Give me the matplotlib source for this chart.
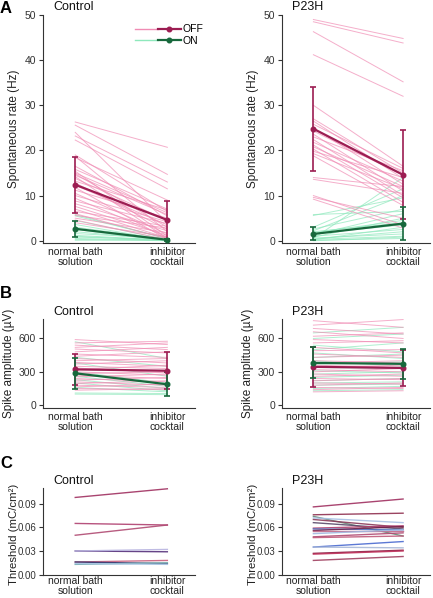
import numpy as np
import matplotlib
matplotlib.use("Agg")
import matplotlib.pyplot as plt
from matplotlib.lines import Line2D
from matplotlib.legend_handler import HandlerTuple

plt.rcParams['font.family'] = ['Liberation Sans', 'DejaVu Sans']

conditions = ["normal bath\nsolution", "inhibitor\ncocktail"]
groups = ["Control", "P23H"]

# --- A: spontaneous rate (Hz), individual cells ---
ctrl_off_nb = [26.3, 25.6, 24.0, 23.2, 22.3, 19.0, 18.7, 18.4, 16.5, 15.8, 15.4, 15.0, 14.8, 14.5, 14.2, 13.8, 13.2,
               12.8, 12.3, 11.8, 11.2, 10.5, 10.0, 9.4, 8.8, 8.2, 7.6, 7.0, 6.5, 6.0, 5.6, 5.0, 4.6, 4.0]
ctrl_off_ic = [20.7, 14.7, 4.0, 13.0, 11.5, 6.5, 2.0, 9.0, 5.5, 7.0, 1.0, 6.2, 3.0, 5.8, 0.5, 4.5, 6.8,
               2.5, 3.5, 0.3, 5.0, 1.5, 4.2, 0.8, 3.8, 2.2, 1.2, 0.6, 3.2, 0.4, 2.8, 1.8, 0.2, 0.9]
ctrl_on_nb = [5.8, 5.5, 4.5, 3.6, 3.0, 2.5, 2.0, 1.6, 1.2, 1.0, 0.8, 0.5, 0.3, 0.1]
ctrl_on_ic = [0.4, 0.6, 0.2, 0.1, 0.3, 0.0, 0.2, 0.5, 0.1, 0.0, 0.3, 0.1, 0.0, 0.2]

p23_off_nb = [49.0, 48.5, 46.3, 41.2, 30.0, 27.0, 26.5, 25.8, 25.0, 24.3, 23.6, 23.0, 22.4, 21.8, 21.2, 20.8,
              20.3, 19.8, 19.3, 18.8, 14.0, 13.6, 10.0, 9.6, 9.2]
p23_off_ic = [44.8, 43.8, 35.2, 32.0, 16.5, 15.0, 13.8, 16.0, 12.5, 14.5, 11.0, 15.5, 10.0, 13.2, 9.5, 12.0,
              8.5, 14.0, 11.5, 7.8, 12.0, 10.5, 3.5, 5.0, 2.8]
p23_on_nb = [5.8, 5.6, 3.0, 2.6, 2.2, 2.0, 1.6, 1.3, 1.0, 0.8, 0.6, 0.4, 0.3, 0.2, 0.1, 0.0, 0.5, 1.8]
p23_on_ic = [6.5, 9.5, 11.5, 7.0, 10.0, 4.0, 3.5, 6.0, 2.5, 5.0, 1.5, 2.0, 1.0, 3.0, 0.5, 0.8, 14.0, 4.5]

# mean and error (low, high) at each condition
rate_off_mean = {"Control": [12.4, 4.6], "P23H": [24.8, 14.6]}
rate_off_lo = {"Control": [6.2, 0.3], "P23H": [15.5, 4.8]}
rate_off_hi = {"Control": [18.6, 8.8], "P23H": [34.0, 24.5]}
rate_on_mean = {"Control": [2.65, 0.2], "P23H": [1.5, 3.8]}
rate_on_lo = {"Control": [0.9, 0.0], "P23H": [0.1, 0.2]}
rate_on_hi = {"Control": [4.4, 0.4], "P23H": [3.1, 7.5]}

# --- B: spike amplitude (uV) ---
ctrl_amp_off_nb = [590, 560, 540, 520, 505, 480, 460, 440, 420, 400, 385, 370, 350, 335, 320, 300, 285, 270,
                   255, 240, 225, 210, 195, 180, 165, 150, 135]
ctrl_amp_off_ic = [545, 575, 500, 560, 470, 520, 430, 480, 380, 420, 350, 400, 330, 290, 360, 270, 300, 240,
                   280, 210, 250, 180, 220, 160, 190, 140, 150]
ctrl_amp_on_nb = [570, 430, 380, 300, 260, 230, 200, 160, 110, 100]
ctrl_amp_on_ic = [420, 350, 260, 200, 170, 150, 130, 120, 105, 95]

p23_amp_off_nb = [760, 720, 690, 660, 620, 590, 560, 520, 490, 460, 430, 400, 380, 360, 340, 320, 300, 280,
                  260, 240, 220, 200, 180, 160, 140, 120]
p23_amp_off_ic = [700, 770, 640, 600, 650, 560, 580, 470, 500, 430, 450, 380, 400, 340, 360, 300, 330, 260,
                  280, 230, 240, 190, 200, 150, 160, 130]
p23_amp_on_nb = [650, 600, 540, 500, 470, 430, 400, 370, 340, 310, 280, 250, 220, 200, 180, 150, 130]
p23_amp_on_ic = [700, 640, 480, 560, 420, 460, 350, 390, 330, 290, 300, 270, 240, 210, 190, 170, 140]

amp_off_mean = {"Control": [322, 310], "P23H": [345, 335]}
amp_off_lo = {"Control": [179, 150], "P23H": [161, 170]}
amp_off_hi = {"Control": [457, 475], "P23H": [525, 500]}
amp_on_mean = {"Control": [287, 188], "P23H": [380, 372]}
amp_on_lo = {"Control": [143, 81], "P23H": [245, 235]}
amp_on_hi = {"Control": [421, 295], "P23H": [520, 505]}

# --- C: threshold (mC/cm2) ---
ctrl_thr_nb = [0.098, 0.065, 0.050, 0.030, 0.030, 0.016, 0.016, 0.013, 0.014]
ctrl_thr_ic = [0.109, 0.063, 0.063, 0.029, 0.032, 0.018, 0.014, 0.015, 0.013]
ctrl_thr_col = ['#a03060', '#b04070', '#b04a72', '#55307a', '#b8b4e0', '#c8607e', '#30306a', '#6aa8a8', '#a8c4e4']

p23_thr_nb = [0.086, 0.076, 0.074, 0.072, 0.070, 0.066, 0.059, 0.058, 0.056, 0.055, 0.052, 0.048, 0.047, 0.035,
              0.035, 0.027, 0.026, 0.018]
p23_thr_ic = [0.096, 0.078, 0.049, 0.066, 0.060, 0.058, 0.062, 0.057, 0.061, 0.055, 0.057, 0.053, 0.049, 0.042,
              0.034, 0.031, 0.030, 0.023]
p23_thr_col = ['#a03060', '#903050', '#6a8a78', '#a8c0e4', '#8a3a5a', '#5a4a6a', '#b04070', '#5070c0', '#702048',
               '#c06888', '#a0b8e0', '#b04a72', '#c05a7a', '#4a6ad0', '#a8b8d8', '#8a1a40', '#c0305a', '#a04060']

OFF_LIGHT = '#f08cb4'
ON_LIGHT = '#8ee8bc'
OFF_DARK = '#9c1d52'
ON_DARK = '#17683c'
AX_COL = '#333333'

x = np.array([0, 1])

fig = plt.figure(figsize=(4.33, 5.98), dpi=100)

W = 433.0
H = 598.0


def make_ax(left, right, top, bottom):
    return fig.add_axes([left / W, 1 - bottom / H, (right - left) / W, (bottom - top) / H])


def style(ax, ylim, yticks, ylabel, title, yfmt=None, labelpad=3, labelsize=8.5):
    for s in ['top', 'right']:
        ax.spines[s].set_visible(False)
    for s in ['left', 'bottom']:
        ax.spines[s].set_color(AX_COL)
        ax.spines[s].set_linewidth(0.8)
    ax.set_xlim(-0.35, 1.3)
    ax.set_ylim(*ylim)
    ax.set_yticks(yticks)
    if yfmt:
        ax.set_yticklabels([yfmt.format(v) for v in yticks])
    ax.set_xticks(x)
    ax.set_xticklabels(conditions, fontsize=7.5, color='#222222', linespacing=1.0)
    ax.tick_params(axis='x', length=0, pad=3)
    ax.tick_params(axis='y', length=3, width=0.8, color=AX_COL, labelsize=7.5, labelcolor='#333333', pad=2)
    ax.set_ylabel(ylabel, fontsize=labelsize, color='#222222', labelpad=labelpad)
    ax.text(0.066, 1.01, title, transform=ax.transAxes, fontsize=9, ha='left', va='bottom', color='#111111')


def pairs(ax, a, b, color, lw=0.7, alpha=0.7):
    for y0, y1 in zip(a, b):
        ax.plot(x, [y0, y1], color=color, lw=lw, alpha=alpha, zorder=1)


def mean_err(ax, m, lo, hi, color):
    m = np.array(m)
    err = np.vstack([m - np.array(lo), np.array(hi) - m])
    ax.errorbar(x, m, yerr=err, color=color, lw=1.6, marker='o', ms=3.3, capsize=2.5, capthick=1.2,
                elinewidth=1.2, zorder=5)


rate_data = {
    "Control": (ctrl_off_nb, ctrl_off_ic, ctrl_on_nb, ctrl_on_ic),
    "P23H": (p23_off_nb, p23_off_ic, p23_on_nb, p23_on_ic),
}
amp_data = {
    "Control": (ctrl_amp_off_nb, ctrl_amp_off_ic, ctrl_amp_on_nb, ctrl_amp_on_ic),
    "P23H": (p23_amp_off_nb, p23_amp_off_ic, p23_amp_on_nb, p23_amp_on_ic),
}
thr_data = {
    "Control": (ctrl_thr_nb, ctrl_thr_ic, ctrl_thr_col),
    "P23H": (p23_thr_nb, p23_thr_ic, p23_thr_col),
}

lefts = {"Control": (43, 195), "P23H": (282, 430)}

for g in groups:
    l, r = lefts[g]
    # A
    ax = make_ax(l, r, 15, 243)
    off_nb, off_ic, on_nb, on_ic = rate_data[g]
    pairs(ax, on_nb, on_ic, ON_LIGHT)
    pairs(ax, off_nb, off_ic, OFF_LIGHT)
    mean_err(ax, rate_off_mean[g], rate_off_lo[g], rate_off_hi[g], OFF_DARK)
    mean_err(ax, rate_on_mean[g], rate_on_lo[g], rate_on_hi[g], ON_DARK)
    style(ax, (-0.5, 50), [0, 10, 20, 30, 40, 50], "Spontaneous rate (Hz)", g)
    if g == "Control":
        h_off = (Line2D([], [], color=OFF_LIGHT, lw=1), Line2D([], [], color=OFF_DARK, lw=1.6, marker='o', ms=3.3))
        h_on = (Line2D([], [], color=ON_LIGHT, lw=1), Line2D([], [], color=ON_DARK, lw=1.6, marker='o', ms=3.3))
        ax.legend([h_off, h_on], ["OFF", "ON"], handler_map={tuple: HandlerTuple(ndivide=2, pad=0)},
                  handlelength=4.4, fontsize=7.5, frameon=False, loc='upper right',
                  bbox_to_anchor=(1.12, 1.0), handletextpad=0.2, labelspacing=0.15)

    # B
    ax = make_ax(l, r, 319, 408)
    off_nb, off_ic, on_nb, on_ic = amp_data[g]
    pairs(ax, on_nb, on_ic, ON_LIGHT)
    pairs(ax, off_nb, off_ic, OFF_LIGHT)
    mean_err(ax, amp_off_mean[g], amp_off_lo[g], amp_off_hi[g], OFF_DARK)
    mean_err(ax, amp_on_mean[g], amp_on_lo[g], amp_on_hi[g], ON_DARK)
    style(ax, (-25, 775), [0, 300, 600], "Spike amplitude (\u00b5V)", g)

    # C
    ax = make_ax(l, r, 488, 575)
    nb, ic, cols = thr_data[g]
    for y0, y1, c in zip(nb, ic, cols):
        ax.plot(x, [y0, y1], color=c, lw=1.0, alpha=0.9)
    style(ax, (-0.0005, 0.110), [0.0, 0.03, 0.06, 0.09], "Threshold (mC/cm\u00b2)", g, yfmt="{:.2f}",
          labelsize=8.2)
    ax.tick_params(axis='y', labelsize=7, pad=1.5)
    ax.yaxis.set_label_coords(-24.0 / (r - l), 0.47)
    ax.tick_params(axis='x', pad=1)

fig.text(0.0, 1 - 1 / H, "A", fontsize=12, fontweight='bold', va='top', ha='left')
fig.text(0.0, 1 - 286 / H, "B", fontsize=12, fontweight='bold', va='top', ha='left')
fig.text(0.0, 1 - 456 / H, "C", fontsize=12, fontweight='bold', va='top', ha='left')

fig.savefig("out.png", dpi=100)
